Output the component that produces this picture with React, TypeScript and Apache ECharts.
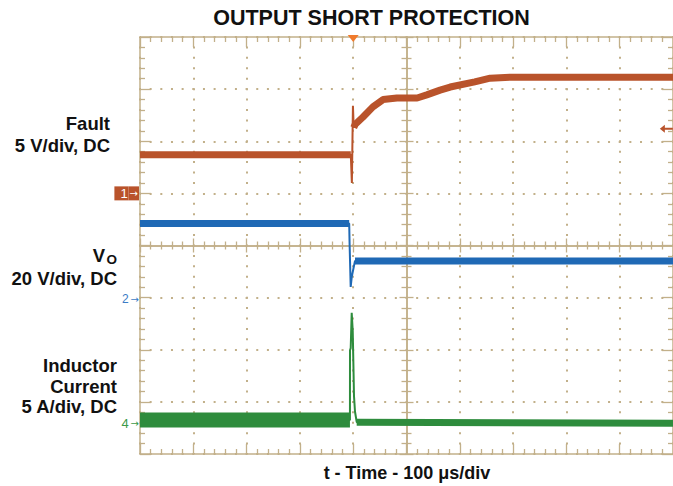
import React, { useEffect, useRef } from "react";
import * as echarts from "echarts";

// ---- Data (time in µs, 100 µs/div; 10 divisions) ----
const timeMin = 0;
const timeMax = 1000;
const timeStep = 100;

// Channel 1: Fault, 5 V/div, zero at division 5
const FAULT_SCALE = 5;
const FAULT_ZERO = 5;
const faultTime = [0, 395.5, 397.5, 399.5, 401, 403.5, 418, 437, 456, 482, 520, 538, 563, 582, 628, 657, 694, 1000];
const faultVolts = [3.7, 3.7, 1.0, 8.4, 6.3, 6.6, 7.3, 8.3, 9.0, 9.15, 9.15, 9.45, 9.9, 10.2, 10.7, 11.05, 11.15, 11.15];
const faultSteady = [[0, 1], [4, 17]];

// Channel 2: VO, 20 V/div
const VO_SCALE = 20;
const VO_ZERO = 2.97;
const voTime = [0, 392.5, 393.2, 395.3, 397.3, 403.4, 1000];
const voVolts = [29, 29, 21.5, 4.7, 8.6, 14.7, 14.7];
const voSteady = [[0, 1], [5, 6]];

// Channel 4: Inductor current, 5 A/div
const IL_SCALE = 5;
const IL_ZERO = 0.59;
const ilTime = [0, 393.9, 394.0, 395.3, 397.2, 399.1, 400.2, 401.5, 403.4, 406.6, 1000];
const ilAmps = [0.31, 0.31, 7.0, 7.2, 10.6, 8.9, 6.1, 2.6, 1.1, 0.1, 0.0];
const ilSteady = [[0, 1], [9, 10]];

const triggerTime = 400; // µs
const triggerLevel = 6.2; // V on channel 1

const DIVS_Y = 8;

const toDiv = (v: number, zero: number, scale: number) => zero + v / scale;
const build = (t: number[], v: number[], zero: number, scale: number, i0 = 0, i1 = t.length - 1) => {
  const out: number[][] = [];
  for (let i = i0; i <= i1; i++) out.push([t[i], toDiv(v[i], zero, scale)]);
  return out;
};

const FAULT_C = "#B9532B";
const VO_C = "#1F69B5";
const IL_C = "#2E8C3D";
const GRID_C = "#C2B08A";
const FONT = '"Liberation Sans", Arial, sans-serif';
const ARROW_FONT = '"DejaVu Sans", sans-serif';

export default function App() {
  const ref = useRef<HTMLDivElement>(null);
  useEffect(() => {
    if (!ref.current) return;
    const chart = echarts.init(ref.current, undefined, { renderer: "svg" });

    const lineS = (name: string, data: number[][], color: string, width: number, extra: any = {}) => ({
      name,
      type: "line",
      xAxisIndex: 0,
      yAxisIndex: 0,
      data,
      symbol: "none",
      silent: true,
      clip: false,
      lineStyle: { color, width, join: "bevel", cap: "butt" },
      z: 5,
      ...extra,
    });

    const series: any[] = [];
    series.push(
      lineS("Fault", build(faultTime, faultVolts, FAULT_ZERO, FAULT_SCALE), FAULT_C, 2, {
        markPoint: {
          silent: true,
          label: { show: false },
          data: [
            {
              coord: [triggerTime, DIVS_Y - 0.03],
              symbol: "triangle",
              symbolRotate: 180,
              symbolSize: [11, 7],
              itemStyle: { color: "#F07A2C" },
            },
            {
              coord: [987.5, toDiv(triggerLevel, FAULT_ZERO, FAULT_SCALE)],
              symbol: "path://M0,4 L5,0 L5,3 L13,3 L13,5 L5,5 L5,8 Z",
              symbolSize: [13, 8],
              itemStyle: { color: FAULT_C },
            },
          ],
        },
      })
    );
    faultSteady.forEach((r) =>
      series.push(lineS("Fault band", build(faultTime, faultVolts, FAULT_ZERO, FAULT_SCALE, r[0], r[1]), FAULT_C, 7))
    );
    series.push(lineS("VO", build(voTime, voVolts, VO_ZERO, VO_SCALE), VO_C, 2));
    voSteady.forEach((r) =>
      series.push(lineS("VO band", build(voTime, voVolts, VO_ZERO, VO_SCALE, r[0], r[1]), VO_C, 7))
    );
    series.push(lineS("Inductor Current", build(ilTime, ilAmps, IL_ZERO, IL_SCALE), IL_C, 2));
    ilSteady.forEach((r, k) =>
      series.push(lineS("IL band", build(ilTime, ilAmps, IL_ZERO, IL_SCALE, r[0], r[1]), IL_C, k === 0 ? 15 : 7))
    );

    const axLine = { show: true, onZero: false, lineStyle: { color: GRID_C, width: 1.5 } };
    const baseX = {
      type: "value",
      min: timeMin,
      max: timeMax,
      interval: timeStep,
      gridIndex: 0,
      axisLabel: { show: false },
      splitLine: { show: false },
    };
    const baseY = {
      type: "value",
      min: 0,
      max: DIVS_Y,
      interval: 1,
      gridIndex: 0,
      axisLabel: { show: false },
      splitLine: { show: false },
    };
    const tick = (inside: boolean, len: number, minLen: number) => ({
      axisTick: { show: true, inside, length: len, lineStyle: { color: GRID_C, width: 1.3 } },
      minorTick: { show: true, splitNumber: 5, length: minLen, lineStyle: { color: GRID_C, width: 1.3 } },
    });

    const option: any = {
      animation: false,
      backgroundColor: "#ffffff",
      grid: { left: 140, top: 37, width: 533, height: 417, containLabel: false, outerBoundsMode: "none" },
      xAxis: [
        {
          ...baseX,
          position: "bottom",
          axisLine: axLine,
          ...tick(true, 10, 5),
          splitLine: {
            show: true,
            lineStyle: { color: GRID_C, width: 2, type: [2, 8.425], dashOffset: 1 },
          },
        },
        { ...baseX, position: "top", axisLine: axLine, ...tick(true, 10, 5) },
        { ...baseX, position: "bottom", offset: -208.5, axisLine: axLine, ...tick(true, 7, 4) },
        { ...baseX, position: "bottom", offset: -208.5, axisLine: axLine, ...tick(false, 7, 4) },
      ],
      yAxis: [
        {
          ...baseY,
          position: "left",
          axisLine: axLine,
          ...tick(true, 11, 5),
          splitLine: {
            show: true,
            lineStyle: { color: GRID_C, width: 2, type: [2, 8.66], dashOffset: 1 },
          },
          axisLabel: {
            show: true,
            margin: 1,
            customValues: [FAULT_ZERO, VO_ZERO, IL_ZERO],
            formatter: (v: number) => {
              if (Math.abs(v - FAULT_ZERO) < 0.01) return "{c1n|1}{c1a|→}";
              if (Math.abs(v - VO_ZERO) < 0.01) return "{c2|2}{c2a|→}";
              return "{c4|4}{c4a|→}";
            },
            rich: {
              c1n: {
                backgroundColor: FAULT_C,
                color: "#ffffff",
                fontSize: 13,
                lineHeight: 14,
                height: 14,
                fontFamily: FONT,
                padding: [0, 1, 0, 6],
              },
              c1a: {
                backgroundColor: FAULT_C,
                color: "#ffffff",
                fontSize: 10,
                lineHeight: 14,
                height: 14,
                fontFamily: ARROW_FONT,
                padding: [0, 1, 0, 1],
              },
              c2: { color: "#3B7CC6", fontSize: 12, fontFamily: FONT, padding: [0, 2, 0, 0] },
              c2a: { color: "#3B7CC6", fontSize: 10, fontFamily: ARROW_FONT },
              c4: { color: "#3C9A4A", fontSize: 13, fontFamily: FONT, padding: [0, 2, 0, 0] },
              c4a: { color: "#3C9A4A", fontSize: 10, fontFamily: ARROW_FONT },
            },
          },
        },
        { ...baseY, position: "right", axisLine: axLine, ...tick(true, 11, 5) },
        { ...baseY, position: "left", offset: -266.5, axisLine: axLine, ...tick(true, 7, 5) },
        { ...baseY, position: "left", offset: -266.5, axisLine: axLine, ...tick(false, 7, 5) },
      ],
      series,
      graphic: [
        {
          type: "text",
          x: 371.5,
          y: 18,
          silent: true,
          style: {
            text: "OUTPUT SHORT PROTECTION",
            textAlign: "center",
            textVerticalAlign: "middle",
            font: `bold 21.5px ${FONT}`,
            fill: "#111111",
          },
        },
        {
          type: "text",
          x: 407,
          y: 473,
          silent: true,
          style: {
            text: "t - Time - 100 μs/div",
            textAlign: "center",
            textVerticalAlign: "middle",
            font: `bold 18px ${FONT}`,
            fill: "#111111",
          },
        },
        ...[
          ["Fault", 110, 123, 18.5],
          ["5 V/div, DC", 110, 145, 18.5],
          ["V", 105, 255.5, 18.5],
          ["O", 117, 259, 13.5],
          ["20 V/div, DC", 117, 278.5, 18.5],
          ["Inductor", 117, 365, 18.5],
          ["Current", 117, 386, 18.5],
          ["5 A/div, DC", 117, 406, 18.5],
        ].map(([text, x, y, fs]) => ({
          type: "text",
          x,
          y,
          silent: true,
          style: {
            text,
            textAlign: "right",
            textVerticalAlign: "middle",
            font: `bold ${fs}px ${FONT}`,
            fill: "#111111",
          },
        })),
      ],
    };
    chart.setOption(option);
    return () => chart.dispose();
  }, []);
  return <div ref={ref} style={{ position: "fixed", left: 0, top: 0, width: 673, height: 486 }} />;
}
